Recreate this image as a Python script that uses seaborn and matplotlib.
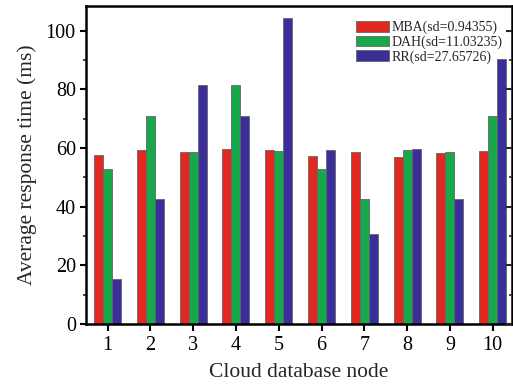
import matplotlib
matplotlib.use('Agg')
import matplotlib.pyplot as plt
import seaborn as sns
import pandas as pd
from matplotlib.ticker import MultipleLocator

# ── data ────────────────────────────────────────────────────
nodes = ['1', '2', '3', '4', '5', '6', '7', '8', '9', '10']
mba = [57.6, 59.4, 58.7, 59.6, 59.3, 57.4, 58.6, 57.0, 58.4, 59.0]
dah = [52.8, 70.8, 58.7, 81.6, 59.0, 52.8, 42.6, 59.3, 58.7, 70.8]
rr = [15.2, 42.7, 81.6, 70.8, 104.2, 59.2, 30.7, 59.7, 42.6, 90.5]
series = ['MBA(sd=0.94355)', 'DAH(sd=11.03235)', 'RR(sd=27.65726)']
colors = ['#e3291f', '#17a84b', '#3a2f98']

df = pd.DataFrame({'node': nodes * 3,
                   'value': mba + dah + rr,
                   'method': [s for s in series for _ in nodes]})

sns.set_theme(style='ticks')
plt.rcParams['font.family'] = ['Liberation Serif', 'DejaVu Serif']

fig = plt.figure(figsize=(5.13, 3.88), dpi=100)
ax = fig.add_axes([0.168, 0.165, 0.830, 0.820])

sns.barplot(data=df, x='node', y='value', hue='method', order=nodes,
            hue_order=series, palette=colors, saturation=1, width=0.63,
            edgecolor='#666666', linewidth=0.6, ax=ax)

ax.set_xlim(-0.5, 9.45)
ax.set_ylim(0, 108.5)
ax.yaxis.set_major_locator(MultipleLocator(20))
ax.yaxis.set_minor_locator(MultipleLocator(10))
ax.set_xlabel('Cloud database node', fontsize=15.5, labelpad=6)
ax.set_ylabel('Average response time (ms)', fontsize=15.5, labelpad=6)

for s in ax.spines.values():
    s.set_visible(True)
    s.set_linewidth(1.8)
    s.set_color('black')

ax.tick_params(axis='both', labelsize=14.5, colors='black', width=1.5)
ax.tick_params(axis='x', length=5, direction='out')
ax.tick_params(axis='y', which='major', length=4, direction='out')
ax.tick_params(axis='y', which='minor', length=2.5, direction='out', width=1.2)

# right side inward ticks
ax2 = ax.twinx()
ax2.set_ylim(ax.get_ylim())
ax2.yaxis.set_major_locator(MultipleLocator(20))
ax2.yaxis.set_minor_locator(MultipleLocator(10))
ax2.tick_params(axis='y', which='both', direction='in', labelright=False,
                width=1.5, length=4)
ax2.tick_params(axis='y', which='minor', length=2.5, width=1.2)
for s in ax2.spines.values():
    s.set_visible(False)

ax.legend(loc='upper left', bbox_to_anchor=(0.62, 0.97), frameon=False,
          fontsize=10, handlelength=2.4, handleheight=0.8,
          labelspacing=0.08, handletextpad=0.15, borderaxespad=0)

fig.savefig('out.png', dpi=100)
